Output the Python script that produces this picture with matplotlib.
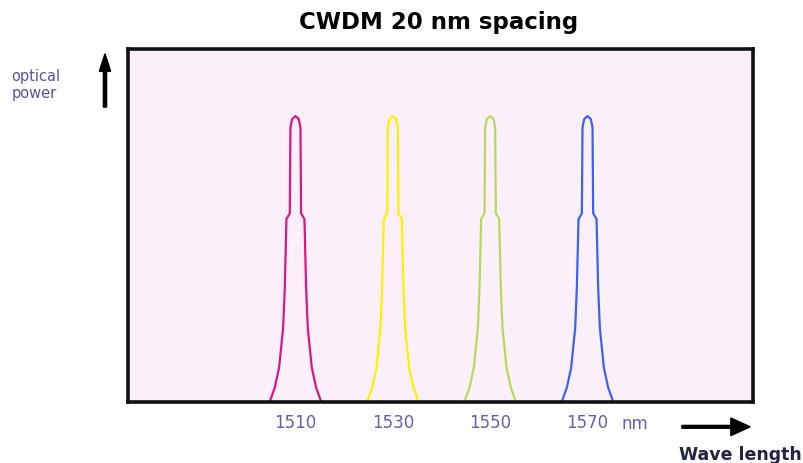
import numpy as np
import matplotlib.pyplot as plt
from matplotlib.patches import FancyArrow

# channel centre wavelengths (nm) and line colours
channels = [1510, 1530, 1550, 1570]
colors = ['#d6197f', '#fff200', '#b8d85c', '#3d63ea']
tick_labels = ['1510', '1530', '1550', '1570']

# one channel's spectral shape: offset from centre (nm) vs relative power
half_offsets = [-5.3, -4.25, -3.36, -2.53, -2.19, -1.85, -1.16, -1.03, -0.68, 0.0]
half_power = [0.0, 0.05, 0.12, 0.26, 0.40, 0.64, 0.66, 0.96, 0.99, 1.0]
offsets = np.array(half_offsets + [-v for v in half_offsets[-2::-1]])
power = np.array(half_power + half_power[-2::-1])

fig = plt.figure(figsize=(8.04, 4.64), dpi=100)
ax = fig.add_axes([0.1592, 0.1315, 0.7774, 0.7607])
ax.set_facecolor('#fbf0fa')

for c, col in zip(channels, colors):
    ax.plot(c + offsets, power, color=col, lw=1.6, solid_joinstyle='miter')

ax.set_xlim(1475.6, 1604)
ax.set_ylim(0, 1.235)
ax.set_yticks([])
ax.set_xticks(channels)
ax.set_xticklabels(tick_labels, fontsize=12, color='#6a5cae')
ax.tick_params(axis='x', length=0, pad=8)
for s in ax.spines.values():
    s.set_linewidth(2.6)
    s.set_color('#111111')

ax.text(1577.0, -0.073, 'nm', fontsize=12, color='#6a5cae', va='center', ha='left')

fig.text(0.545, 0.952, 'CWDM 20 nm spacing', fontsize=16.5, fontweight='bold',
         ha='center', va='center')
fig.text(0.014, 0.817, 'optical\npower', fontsize=10.5, color='#5a52a0',
         ha='left', va='center', linespacing=1.15)

# axis direction arrows
fig.patches.append(FancyArrow(
    0.1306, 0.767, 0, 0.115, width=0.004, head_width=0.014, head_length=0.038,
    length_includes_head=True, color='black', transform=fig.transFigure, figure=fig))
fig.patches.append(FancyArrow(
    0.848, 0.078, 0.085, 0, width=0.006, head_width=0.038, head_length=0.024,
    length_includes_head=True, color='black', transform=fig.transFigure, figure=fig))
fig.text(0.845, 0.019, 'Wave length', fontsize=12.5, fontweight='bold',
         color='#222244', ha='left', va='center')

fig.savefig('out.png', dpi=100, facecolor='white')
